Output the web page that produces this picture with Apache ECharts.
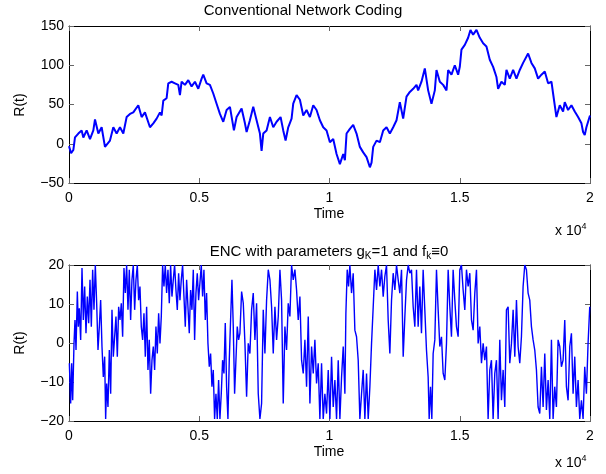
<!DOCTYPE html>
<html>
<head>
<meta charset="utf-8">
<script src="https://cdn.jsdelivr.net/npm/echarts@6/dist/echarts.min.js"></script>
<style>
  html, body { margin: 0; padding: 0; background: #fff; }
  #main { width: 606px; height: 474px; }
</style>
</head>
<body>
<div id="main"></div>
<script>
// values (time, R(t))
var topTime = [0, 80, 166, 230, 358, 486, 550, 678, 806, 934, 998, 1126, 1253, 1381, 1420, 1573, 1701, 1829, 1957, 2085,
  2213, 2341, 2468, 2660, 2788, 2916, 3108, 3236, 3364, 3492, 3556, 3620, 3747, 3811, 3939, 4067, 4195, 4259, 4323, 4451,
  4579, 4707, 4835, 4963, 5091, 5154, 5282, 5410, 5538, 5666, 5794, 5922, 6050,
  6178, 6242, 6331, 6434, 6626, 6754, 6818, 6945, 7073, 7201, 7329, 7393, 7457, 7585, 7713, 7841, 7969, 8122, 8224, 8314,
  8416, 8544, 8608, 8736, 8864, 8992, 9120, 9248, 9376, 9503, 9631, 9759, 9887, 10015, 10143, 10271, 10399, 10527, 10591,
  10655, 10782, 10910, 11038, 11166, 11294, 11422, 11550, 11614, 11678, 11806, 11934, 12061, 12189, 12317, 12445, 12573,
  12700, 12828, 12956, 13084, 13212, 13340, 13403, 13531, 13659, 13787, 13915, 14043, 14107, 14235, 14363, 14491, 14555,
  14682, 14810, 14938, 15002, 15066, 15194, 15322, 15411, 15514, 15642, 15770, 15898, 16025, 16153, 16281, 16409, 16473,
  16601, 16729, 16793, 16921, 17049, 17177, 17304, 17432, 17624, 17752, 17880, 18008, 18136, 18264, 18392, 18520, 18583,
  18711, 18839, 18967, 19031, 19159, 19287, 19415, 19543, 19671, 19735, 19798, 19862, 19926, 20000];
var topR = [-3, -12, -8, 8, 13, 17, 8, 17, 6, 17, 31, 13, 21, -4, -6, 4, 21, 13, 21, 13,
  34, 38, 40, 49, 34, 40, 21, 26, 32, 40, 36, 55, 58, 77, 79, 77, 75, 62, 79, 75,
  81, 73, 79, 70, 83, 88, 77, 75, 64, 51, 38, 28, 43,
  47, 49, 17, 34, 45, 26, 15, 30, 47, 30, 13, -9, 13, 17, 34, 21, 28, 34, 17, 4,
  21, 32, 51, 62, 56, 36, 43, 34, 49, 43, 30, 21, 17, 2, 6, -13, -26, -13, -21,
  13, 19, 24, 13, -4, -11, -17, -30, -24, -4, 4, 2, 17, 21, 13, 21, 30,
  53, 32, 60, 66, 70, 75, 68, 79, 96, 68, 51, 68, 94, 79, 75, 68, 94,
  88, 100, 88, 98, 120, 126, 135, 145, 139, 145, 135, 128, 124, 107, 98, 85, 70,
  79, 75, 94, 83, 94, 83, 94, 103, 115, 103, 96, 83, 88, 92, 77, 79, 64,
  34, 49, 41, 53, 43, 49, 41, 34, 26, 15, 11, 21, 28, 36];

var botTime = [13, 64, 102, 141, 192, 230, 269, 320, 358, 396, 448, 499, 550, 601, 652, 703, 755, 806, 857, 908,
  959, 1010, 1062, 1113, 1164, 1215, 1266, 1317, 1369, 1407, 1445, 1496, 1548, 1599, 1650, 1701, 1752, 1803, 1855, 1906,
  1957, 2008, 2059, 2110, 2162, 2213, 2264, 2315, 2366, 2417, 2468, 2520, 2571, 2622, 2673, 2724, 2775, 2827, 2878, 2929,
  2980, 3031, 3082, 3134, 3185, 3236, 3287, 3338, 3389, 3441, 3492, 3543, 3594, 3645, 3696, 3747, 3799, 3850, 3901, 3952,
  4003, 4054, 4106, 4157, 4208, 4259, 4310, 4361, 4413, 4464, 4515, 4566, 4617, 4668, 4720, 4771, 4822, 4873, 4924, 4975,
  5026, 5078, 5129, 5180, 5231, 5282, 5334, 5385, 5436, 5487, 5538, 5589, 5641, 5692, 5743, 5794, 5845, 5896, 5948, 5999,
  6050, 6101, 6152, 6203, 6255, 6306, 6357, 6408, 6459, 6510, 6561,
  6626, 6690, 6754, 6818, 6881, 6945, 7009, 7073, 7137, 7201, 7265, 7329, 7393, 7457, 7521, 7585, 7649, 7713, 7777, 7841,
  7905, 7969, 8033, 8097, 8160, 8224, 8288, 8352, 8416, 8480, 8544, 8608, 8672, 8736, 8800, 8864, 8928, 8992, 9056, 9120,
  9184, 9248, 9312, 9376, 9439, 9503, 9567, 9631, 9695, 9759, 9823, 9887, 9951, 10015, 10079, 10143, 10207, 10271, 10335, 10399,
  10463, 10527, 10591, 10629, 10680, 10731, 10782, 10846, 10910, 10974, 11038, 11102, 11166, 11230, 11294, 11358, 11422, 11486, 11550, 11614,
  11678, 11742, 11806, 11870, 11934, 11998, 12061, 12125, 12189, 12253, 12317, 12381, 12445, 12509, 12573, 12637, 12701, 12765, 12829, 12893,
  12957, 13021, 13085,
  13148, 13212, 13276, 13340, 13403, 13467, 13531, 13595, 13659, 13723, 13787, 13826, 13877, 13928, 13979, 14043, 14107, 14171, 14235, 14299,
  14363, 14427, 14491, 14555, 14619, 14682, 14746, 14810, 14874, 14938, 15002, 15066, 15130, 15194, 15258, 15322, 15386, 15450, 15514, 15578,
  15642, 15706, 15770, 15834, 15898, 15962, 16025, 16089, 16153, 16217, 16281, 16345, 16409, 16473, 16537, 16601, 16665, 16729, 16793, 16857,
  16921, 16985, 17049, 17113, 17177, 17240, 17304, 17368, 17432, 17496, 17560, 17624, 17688, 17752, 17816, 17880, 17944, 18008, 18072, 18136,
  18200, 18264, 18328, 18392, 18456, 18520, 18583, 18647, 18711, 18775, 18839, 18903, 18967, 19031, 19095, 19159, 19223, 19287, 19351, 19415,
  19479, 19543, 19607, 19671, 19735, 19798, 19862, 19926, 19990];
var botR = [-5.2, -15.5, -5.2, -14.7, -0.1, 5.9, -1.8, 13.2, 4.2, 8.9, 0.8, 19.2, 5.9, 14.5, 2.5, 11.9, 5.1, 16.2, 4.2, 18.8,
  8.5, 20, 10.2, -1.8, 4.2, 11, -0.9, -8.7, -3.5, -19.5, -10.4, -16.4, -1.8, -13, 8.5, -3.5, 1.6, 6.8, -3.5, 9.3,
  5.9, 10.2, 1.6, 19.2, 12.8, 20, 8.5, 18.8, 5.9, 16.2, 20, 8.5, 16.2, 20, 11, 14.5, 4.2, 0.8, 7.6, -3.5,
  9.3, -6.9, 0.8, -13, -4.4, -0.9, -6.9, 4.2, -2.7, 7.6, -0.1, 6.8, 20, 14.5, 20, 12.8, 18.8, 10.2, 20, 11.9,
  16.2, 20, 13.6, 8.5, 17.9, 11, 16.2, 20, 11.9, 4.2, 16.2, 9.3, 2.5, 13.6, 8.5, 18.8, 0.8, 12.8, 17.9, 11,
  15.4, 20, 11.9, 18.8, 5.9, 12.8, -0.1, -6.1, -2.7, -11.2, -6.9, -19.5, -13, -19.5, -9.5, -19.5, -13, -4.4, -7.8, 5.1,
  -11.2, -19.5, -4.4, 5.9, 16.2, 4.2, -13, -4.4, 4.2, 0.8, 2.5,
  13.2, 10.2, -0.1, -13.8, -0.1, -2.7, 8.5, 12.8, 0.8, 10.2, -13, -19.5, -15.5, 8.5, -2.7, 11, 18.8, 16.2, 9.3, -2.7,
  9.3, 0.8, 6.8, 18.8, 11, -15.5, 4.2, -1.8, 10.2, 6.8, 20, 16.2, 18.8, 13.6, 5.9, 11.9, -4.4, -7.8, 0.8, -11.2,
  6.8, -15.5, -0.9, -7.8, 0.8, -10.4, -5.2, -19.5, -5.2, -19.5, -13, -18.1, -6.9, -19.5, -3.5, -16.4, -9.5, -19.5, -4.4, -19.5,
  -8.7, -0.9, -13, 7.6, 18.8, 14.5, 20, 12.8, 17.9, 3.3, 1.6, -4.4, -19.5, -13, -6.9, -19.5, -7.8, -19.5, -11.2, -0.1,
  9.3, 18.8, 13.6, 20, 14.5, 18.8, 11.9, 17.1, 20, 5.9, -2.7, 11, 17.9, 13.6, 20, 16.2, 12.8, 18.8, -3.5, 6.8,
  16.2, 20, 17.9,
  18.8, 9.3, 4.2, 18.8, 4.2, 14.5, 2.5, 18.8, 8.5, -1.8, -8.7, -19.5, -11.2, -19.5, -2.7, 0.8, 18.8, 8.5, -0.9, 1.6,
  -7.8, -9.5, -0.1, 18.8, 9.3, 1.6, 18.8, 11, 4.2, 1.6, 18.8, 20, 13.6, 8.5, 18.8, 14.5, 17.9, 5.9, 3.3, 12.8,
  18.8, -0.1, 4.2, -5.2, -0.1, -4.4, -0.9, -19.5, -6.9, -4.4, -19.5, -7.8, -4.4, -19.5, 0.8, -14.7, -6.9, -16.4, 8.5, 9.3,
  -5.2, -0.1, 8.5, -3.5, 11, -0.9, -5.2, 1.6, 14.5, 20, 18.8, 12.8, 11, 4.2, 0.8, -1.8, -6.9, -16.4, -18.1, -6.1,
  -16.4, -2.7, -17.2, -9.5, -19.5, 0.8, -19.5, -11.2, -16.4, 0.8, -0.9, -6.1, -4.4, 5.9, -11.2, -14.7, -0.9, 2.5, -13, -3.5,
  -16.4, -9.5, -19.5, -14.7, -19.5, -6.1, -13, -0.1, 9.3];

function pairs(t, v) {
  var out = [];
  for (var i = 0; i < t.length; i++) out.push([t[i], v[i]]);
  return out;
}

var FONT = 'Liberation Sans';
var black = '#000';

function xAx(grid, pos, labels) {
  return {
    type: 'value', gridIndex: grid, position: pos, min: 0, max: 20000, interval: 5000,
    axisLine: { show: true, onZero: false, lineStyle: { color: black, width: 1 } },
    axisTick: { show: true, inside: true, length: 5, lineStyle: { color: '#666' } },
    splitLine: { show: false },
    axisLabel: {
      show: labels, margin: 8, color: black, fontFamily: FONT, fontSize: 14,
      formatter: function (v) { return String(v / 10000); }
    }
  };
}
function yAx(grid, pos, min, max, step, labels) {
  return {
    type: 'value', gridIndex: grid, position: pos, min: min, max: max, interval: step,
    axisLine: { show: true, onZero: false, lineStyle: { color: black, width: 1 } },
    axisTick: { show: true, inside: true, length: 5, lineStyle: { color: '#666' } },
    splitLine: { show: false },
    axisLabel: {
      show: labels, margin: 5, color: black, fontFamily: FONT, fontSize: 14,
      formatter: function (v) { return String(v).replace('-', '\u2212'); }
    }
  };
}

var chart = echarts.init(document.getElementById('main'), null, { renderer: 'canvas' });
chart.setOption({
  animation: false,
  backgroundColor: '#fff',
  textStyle: { fontFamily: FONT },
  grid: [
    { left: 69, top: 26, width: 521, height: 157 },
    { left: 69, top: 265, width: 521, height: 156 }
  ],
  xAxis: [xAx(0, 'bottom', true), xAx(0, 'top', false), xAx(1, 'bottom', true), xAx(1, 'top', false)],
  yAxis: [yAx(0, 'left', -50, 150, 50, true), yAx(0, 'right', -50, 150, 50, false),
          yAx(1, 'left', -20, 20, 10, true), yAx(1, 'right', -20, 20, 10, false)],
  series: [
    { type: 'line', xAxisIndex: 0, yAxisIndex: 0, data: pairs(topTime, topR), showSymbol: false,
      lineStyle: { color: '#0000ff', width: 2 }, clip: true },
    { type: 'line', xAxisIndex: 2, yAxisIndex: 2, data: pairs(botTime, botR), showSymbol: false,
      lineStyle: { color: '#0000ff', width: 1.4 }, clip: true }
  ],
  graphic: [
    { type: 'text', left: 'center', top: 3, style: { text: 'Conventional Network Coding', font: '15px ' + FONT, fill: black } },
    { type: 'text', x: 329, y: 207, style: { text: 'Time', font: '14px ' + FONT, fill: black, align: 'center' } },
    { type: 'text', x: 329, y: 445, style: { text: 'Time', font: '14px ' + FONT, fill: black, align: 'center' } },
    { type: 'text', x: 20, y: 105, rotation: Math.PI / 2,
      style: { text: 'R(t)', font: '14px ' + FONT, fill: black, align: 'center', verticalAlign: 'middle' } },
    { type: 'text', x: 20, y: 343, rotation: Math.PI / 2,
      style: { text: 'R(t)', font: '14px ' + FONT, fill: black, align: 'center', verticalAlign: 'middle' } },
    { type: 'text', x: 555, y: 222,
      style: { text: '{n|x 10}{s|4}', fill: black,
        rich: { n: { font: '14px ' + FONT, fill: black }, s: { font: '9px ' + FONT, fill: black, padding: [0, 0, 10, 0] } } } },
    { type: 'text', x: 555, y: 454,
      style: { text: '{n|x 10}{s|4}', fill: black,
        rich: { n: { font: '14px ' + FONT, fill: black }, s: { font: '9px ' + FONT, fill: black, padding: [0, 0, 10, 0] } } } },
    { type: 'text', x: 329, y: 243,
      style: { text: '{n|ENC with parameters g}{b|K}{n|=1 and f}{b|k}{n|\u22610}', fill: black, align: 'center',
        rich: { n: { font: '15px ' + FONT, fill: black }, b: { font: '10px ' + FONT, fill: black, padding: [8, 0, 0, 0] } } } }
  ]
});
</script>
</body>
</html>
